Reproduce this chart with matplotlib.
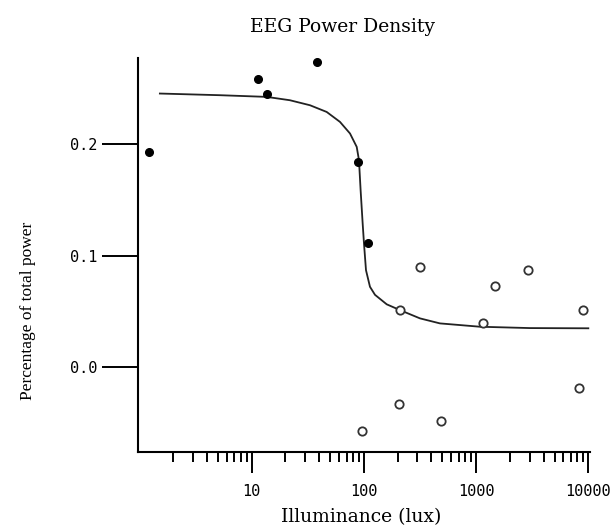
import matplotlib
matplotlib.use("Agg")
import matplotlib.pyplot as plt
import numpy as np

# filled points (lux, fraction of total power)
dark_lux = [1.22, 11.5, 13.8, 37.9, 89.1, 109]
dark_power = [0.193, 0.258, 0.245, 0.274, 0.184, 0.111]

# open points
light_lux = [95.5, 207, 210, 316, 486, 1159, 1472, 2885, 8320, 9020]
light_power = [-0.0573, -0.0329, 0.0513, 0.0896, -0.0481, 0.0394, 0.0728, 0.0869, -0.0183, 0.0513]

# fitted curve
fit_lux = [1.52, 5.22, 13.6, 21.9, 33.1, 46.6, 61.2, 75.2, 86.3, 90.4, 93.5, 97.5,
           100.2, 104.4, 113.3, 125.6, 159.7, 209.8, 316, 476, 1084, 3020, 10000]
fit_power = [0.2454, 0.2439, 0.2424, 0.2394, 0.2349, 0.2289, 0.22, 0.2096, 0.1976, 0.1857, 0.1588, 0.129,
             0.111, 0.0871, 0.0722, 0.065, 0.0565, 0.0513, 0.0439, 0.0394, 0.0364, 0.0352, 0.035]

x_ticks = [10, 100, 1000, 10000]
x_labels = ["10", "100", "1000", "10000"]
y_ticks = [0.0, 0.1, 0.2]
y_labels = ["0.0", "0.1", "0.2"]

fig = plt.figure(figsize=(6.1, 5.25), dpi=100)
ax = fig.add_axes([0.2262, 0.1396, 0.741, 0.7494])

ax.plot(fit_lux, fit_power, color="#222222", lw=1.3, zorder=2)
ax.plot(dark_lux, dark_power, "o", color="black", ms=5.5, zorder=3)
ax.plot(light_lux, light_power, "o", mfc="white", mec="#333333", mew=1.3, ms=6, zorder=3)

ax.set_xscale("log")
ax.set_xlim(0.97, 10350)
ax.set_ylim(-0.0756, 0.277)

ax.set_xticks(x_ticks)
ax.set_xticklabels(x_labels)
ax.xaxis.set_minor_locator(matplotlib.ticker.LogLocator(base=10, subs=np.arange(2, 10)))
ax.xaxis.set_minor_formatter(matplotlib.ticker.NullFormatter())
ax.set_yticks(y_ticks)
ax.set_yticklabels(y_labels)

for s in ["top", "right"]:
    ax.spines[s].set_visible(False)
for s in ["left", "bottom"]:
    ax.spines[s].set_linewidth(1.5)

ax.tick_params(axis="x", which="major", length=15, width=1.4, pad=8, labelsize=11)
ax.tick_params(axis="x", which="minor", length=7.2, width=1.4)
ax.tick_params(axis="y", which="major", length=26, width=1.4, pad=3.5, labelsize=11)
for lab in ax.get_xticklabels() + ax.get_yticklabels():
    lab.set_family("DejaVu Sans Mono")

fig.text(342 / 610, 1 - 32 / 525, "EEG Power Density", family="DejaVu Serif",
         fontsize=13.5, ha="center", va="baseline")
fig.text(361 / 610, 1 - 522 / 525, "Illuminance (lux)", family="DejaVu Serif",
         fontsize=13.5, ha="center", va="baseline")
fig.text(28 / 610, 1 - 311 / 525, "Percentage of total power", family="Liberation Serif",
         fontsize=12.5, rotation=90, ha="center", va="center")

fig.savefig("out.png", dpi=100)
